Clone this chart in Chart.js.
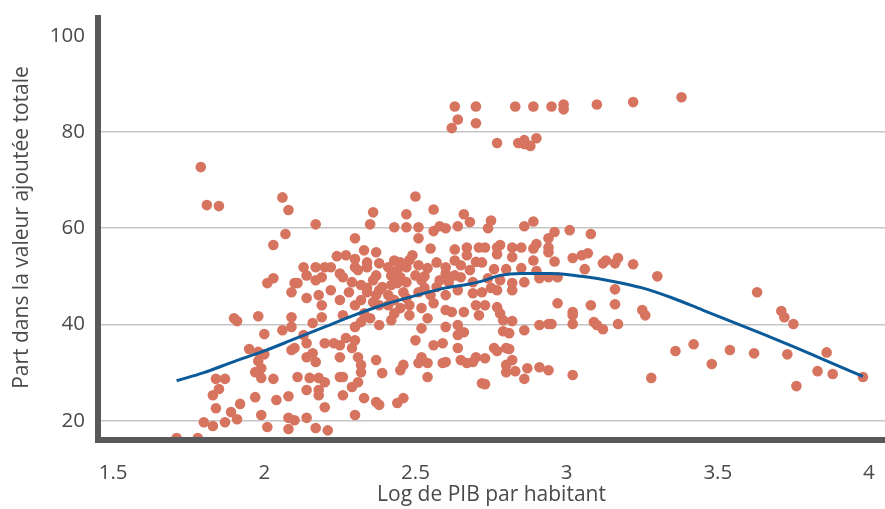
<!DOCTYPE html>
<html>
<head>
<meta charset="utf-8">
<script src="https://cdn.jsdelivr.net/npm/chart.js@4.4.1/dist/chart.umd.min.js"></script>
<style>
  html, body { margin: 0; padding: 0; background: #fff; }
  #wrap { width: 885px; height: 509px; position: relative; }
</style>
</head>
<body>
<div id="wrap"><canvas id="scatterChart"></canvas></div>
<script>
// log GDP per capita (x) and share of total value added (y), one entry per observation
var gdpLog = [
  1.71, 1.78, 1.79, 1.81, 1.85, 1.90, 1.91, 1.98, 1.84, 1.87, 1.85, 1.83, 1.84, 1.89, 1.92, 1.80,
  1.83, 1.87, 1.91, 1.95, 1.98, 2.00, 2.00, 1.98, 1.99, 1.97, 1.99, 2.03, 1.97, 2.04, 2.08, 1.99,
  2.01, 2.08, 2.08, 2.06, 2.09, 2.09, 2.09, 2.06, 2.08, 2.07, 2.03, 2.03, 2.01, 2.10, 2.09,
  2.36, 2.50, 2.56, 2.47, 2.66, 2.68, 2.17, 2.35, 2.43, 2.47, 2.51, 2.56, 2.58, 2.60, 2.64, 2.30,
  2.51, 2.33, 2.37, 2.55, 2.63, 2.67, 2.71, 2.24, 2.27, 2.30, 2.34, 2.38, 2.43, 2.45, 2.49, 2.51,
  2.57, 2.63, 2.67, 2.72, 2.13, 2.17, 2.20, 2.22, 2.30, 2.34, 2.41, 2.47, 2.54, 2.60, 2.65, 2.14,
  2.19, 2.25, 2.31, 2.37, 2.42, 2.45, 2.50, 2.52, 2.60, 2.63, 2.65, 2.69, 2.11, 2.17, 2.34, 2.39,
  2.44, 2.53, 2.57, 2.14, 2.18, 2.28, 2.37, 2.41, 2.46, 2.47, 2.60, 2.69, 2.72, 2.30, 2.36, 2.41,
  2.45, 2.52, 2.56, 2.62, 2.66, 2.70, 2.19, 2.26, 2.33, 2.43, 2.48,
  2.26, 2.29, 2.32, 2.34, 2.36, 2.38, 2.42, 2.44, 2.47, 2.48, 2.51, 2.53, 2.58, 2.61, 2.64, 2.68,
  2.70, 2.22, 2.19, 2.25, 2.32, 2.38, 2.43, 2.48, 2.55, 2.60,
  2.16, 2.30, 2.32, 2.35, 2.38, 2.42, 2.52, 2.54, 2.60, 2.64, 2.64, 2.66, 2.71, 2.10, 2.13, 2.14,
  2.16, 2.14, 2.17, 2.20, 2.23, 2.25, 2.27, 2.30, 2.29, 2.25, 2.31, 2.32, 2.32, 2.37, 2.39, 2.46,
  2.45, 2.50, 2.51, 2.52, 2.54, 2.56, 2.59, 2.59, 2.60, 2.64, 2.65, 2.67, 2.69, 2.70, 2.72, 2.54,
  2.11, 2.15, 2.18, 2.20, 2.25, 2.26, 2.31, 2.14, 2.18, 2.18, 2.26, 2.29, 2.33, 2.37, 2.38, 2.44,
  2.46, 2.20, 2.30, 2.10, 2.14, 2.17, 2.21,
  2.75, 2.74, 2.89, 2.86, 2.96, 3.01, 3.08, 2.94, 2.73, 2.77, 2.78, 2.82, 2.85, 2.89, 2.90, 2.94,
  2.77, 2.82, 2.89, 2.94, 2.96, 3.02, 3.05, 3.07, 3.12, 3.13, 3.16, 3.17, 3.22, 3.30, 2.76, 2.80,
  2.85, 2.90, 3.06, 2.74, 2.78, 2.82, 2.86, 2.91, 2.94, 2.97, 2.75, 2.77, 2.82, 3.16, 2.73, 2.77,
  2.97, 3.02, 3.08, 3.16, 3.25, 3.26, 2.78,
  2.79, 2.82, 2.79, 2.81, 2.86, 2.91, 2.94, 2.95, 3.02, 3.02, 3.09, 3.10, 3.12, 3.17, 2.76, 2.77,
  2.80, 2.81, 2.73, 2.82, 2.80, 2.80, 2.83, 2.87, 2.91, 2.94, 2.86, 3.02, 2.73, 3.28, 3.36,
  3.63, 3.71, 3.72, 3.75, 3.42, 3.48, 3.54, 3.62, 3.73, 3.86, 3.83, 3.88, 3.76, 3.98,
  2.63, 2.70, 2.64, 2.70, 2.62, 2.83, 2.89, 2.95, 2.99, 2.99, 3.10, 3.22, 3.38, 2.77, 2.84, 2.86,
  2.86, 2.88, 2.90
];
var valueShare = [
  16.4, 16.4, 72.7, 64.8, 64.6, 41.3, 40.7, 41.7, 28.7, 28.7, 26.6, 25.3, 22.6, 21.8, 23.5, 19.7,
  18.9, 19.7, 20.3, 34.9, 34.3, 33.8, 38.0, 32.4, 30.9, 30.1, 28.9, 28.7, 24.9, 24.3, 25.1, 21.2,
  18.7, 20.6, 18.3, 38.8, 39.5, 41.5, 34.7, 66.4, 63.8, 58.8, 56.5, 49.6, 48.6, 48.6, 46.7,
  63.3, 66.6, 63.9, 62.9, 62.9, 61.3, 60.8, 60.8, 60.2, 60.2, 60.2, 59.4, 60.4, 60.0, 60.4, 57.9,
  57.9, 55.4, 55.0, 55.8, 55.6, 56.0, 56.0, 54.2, 54.4, 53.6, 52.9, 52.7, 53.3, 52.9, 54.4, 52.3,
  52.9, 53.3, 54.4, 52.9, 51.9, 51.9, 51.9, 51.9, 51.9, 51.9, 51.9, 51.9, 51.7, 51.9, 52.3, 50.2,
  49.8, 50.6, 51.3, 50.2, 50.2, 49.8, 50.2, 49.2, 50.6, 50.2, 49.8, 48.8, 48.6, 49.2, 47.6, 47.8,
  48.6, 47.6, 47.8, 45.5, 46.1, 46.7, 46.1, 46.1, 46.7, 45.5, 46.1, 46.5, 46.7, 44.0, 44.6, 44.0,
  43.4, 43.4, 44.4, 42.6, 42.6, 44.0, 41.5, 41.9, 42.3, 42.3, 41.9,
  49.8, 48.8, 48.2, 46.7, 49.2, 47.1, 48.2, 51.3, 48.8, 53.4, 46.7, 50.0, 49.2, 48.8, 47.1, 51.3,
  53.0, 47.1, 44.0, 45.1, 45.1, 44.0, 45.1, 44.0, 46.1, 43.0,
  40.3, 39.5, 40.5, 41.3, 39.9, 40.9, 39.2, 41.3, 39.5, 39.9, 37.8, 38.4, 41.9, 35.1, 37.8, 36.1,
  34.0, 33.2, 32.2, 36.1, 36.1, 35.7, 37.2, 36.7, 35.1, 33.2, 33.2, 31.6, 30.1, 32.6, 29.9, 31.6,
  30.5, 36.7, 32.0, 33.2, 32.0, 35.7, 36.1, 32.0, 32.2, 35.1, 32.6, 32.0, 32.2, 33.2, 27.8, 29.1,
  29.1, 28.9, 28.9, 28.0, 29.1, 29.1, 28.0, 26.4, 26.4, 25.3, 25.3, 27.0, 24.7, 23.9, 23.3, 23.7,
  24.7, 22.8, 21.2, 20.1, 20.6, 18.5, 18.0,
  61.6, 60.0, 61.4, 60.4, 59.2, 59.6, 58.8, 57.9, 56.0, 56.0, 56.5, 56.0, 56.0, 55.8, 56.7, 56.0,
  54.6, 54.0, 53.3, 55.0, 53.1, 53.8, 54.4, 54.8, 52.7, 53.3, 52.7, 53.8, 52.5, 50.0, 51.5, 51.5,
  51.7, 51.1, 51.5, 49.6, 49.2, 48.6, 48.8, 49.6, 49.8, 49.8, 47.6, 47.1, 47.1, 47.3, 44.0, 43.6,
  44.4, 42.6, 44.0, 44.2, 43.0, 41.9, 42.3,
  40.9, 40.7, 38.6, 38.2, 38.8, 39.9, 40.1, 40.1, 41.9, 40.1, 40.5, 39.9, 39.0, 40.1, 35.1, 34.5,
  35.1, 34.9, 33.0, 32.6, 31.6, 30.1, 30.3, 30.9, 31.1, 30.5, 28.7, 29.5, 27.6, 28.9, 34.5,
  46.7, 42.8, 41.5, 40.1, 35.9, 31.8, 34.7, 34.0, 33.8, 34.2, 30.3, 29.7, 27.2, 29.1,
  85.3, 85.3, 82.6, 81.8, 80.8, 85.3, 85.3, 85.3, 85.7, 84.7, 85.7, 86.2, 87.2, 77.7, 77.7, 78.3,
  77.5, 77.1, 78.7
];

// smoothed trend through the cloud
var trendX = [1.71, 1.80, 1.90, 2.00, 2.10, 2.20, 2.30, 2.40, 2.50, 2.60, 2.67, 2.72, 2.78,
              2.85, 2.95, 3.05, 3.15, 3.25, 3.35, 3.45, 3.55, 3.65, 3.75, 3.85, 3.98];
var trendY = [28.3, 30.0, 32.3, 34.5, 37.0, 39.5, 42.0, 44.2, 46.0, 47.6, 48.3, 49.0, 50.2,
              50.6, 50.6, 50.0, 49.0, 47.6, 45.5, 43.0, 40.5, 38.0, 35.4, 32.7, 29.2];

var xTicks = [1.5, 2, 2.5, 3, 3.5, 4];
var yTicks = [20, 40, 60, 80, 100];

var points = gdpLog.map(function (x, i) {
    return { x: x, y: valueShare[i] };
});
var trend = trendX.map(function (x, i) {
    return { x: x, y: trendY[i] };
});

var textColor = '#4a4a4a';
var axisColor = '#58595b';

// thick axis lines go on top of the dots
var axisLines = {
    id: 'axisLines',
    afterDatasetsDraw: function (chart) {
        var ctx = chart.ctx;
        var a = chart.chartArea;
        ctx.save();
        ctx.strokeStyle = axisColor;
        ctx.lineWidth = 6;
        ctx.beginPath();
        ctx.moveTo(a.left, a.top);
        ctx.lineTo(a.left, a.bottom);
        ctx.moveTo(a.left - 3, a.bottom);
        ctx.lineTo(a.right, a.bottom);
        ctx.stroke();
        ctx.restore();
    }
};

new Chart(document.getElementById('scatterChart'), {
    type: 'scatter',
    data: {
        datasets: [{
            type: 'line',
            data: trend,
            borderColor: '#0b5a9a',
            borderWidth: 3,
            pointRadius: 0,
            fill: false,
            cubicInterpolationMode: 'monotone'
        }, {
            data: points,
            backgroundColor: '#d6745f',
            borderWidth: 0,
            pointRadius: 5.3,
            pointHoverRadius: 5.3
        }]
    },
    options: {
        responsive: true,
        maintainAspectRatio: false,
        animation: false,
        layout: {
            autoPadding: false,
            padding: { top: 15, right: 0, left: 0, bottom: 0 }
        },
        plugins: {
            legend: { display: false },
            tooltip: { enabled: false }
        },
        scales: {
            x: {
                type: 'linear',
                min: 1.45,
                max: 4.053,
                afterBuildTicks: function (scale) {
                    scale.ticks = xTicks.map(function (v) { return { value: v }; });
                },
                afterFit: function (scale) {
                    scale.height = 69;
                    scale.paddingLeft = 0;
                    scale.paddingRight = 0;
                },
                grid: { display: false },
                border: { display: false },
                ticks: {
                    color: textColor,
                    padding: 13,
                    maxRotation: 0,
                    font: { family: 'Open Sans', size: 20.5 },
                    callback: function (v) { return String(v); }
                },
                title: {
                    display: true,
                    text: 'Log de PIB par habitant',
                    color: textColor,
                    font: { family: 'Open Sans', size: 21 },
                    padding: { top: 0, bottom: 1 }
                }
            },
            y: {
                min: 16,
                max: 104.3,
                afterBuildTicks: function (scale) {
                    scale.ticks = yTicks.map(function (v) { return { value: v }; });
                },
                afterFit: function (scale) {
                    scale.width = 98;
                    scale.paddingTop = 0;
                    scale.paddingBottom = 0;
                },
                grid: {
                    drawTicks: false,
                    lineWidth: 1.5,
                    color: function (c) {
                        return c.tick && c.tick.value === 100 ? 'rgba(0,0,0,0)' : '#c6c6c6';
                    }
                },
                border: { display: false },
                ticks: {
                    color: textColor,
                    padding: 13,
                    font: { family: 'Open Sans', size: 20.5 }
                },
                title: {
                    display: true,
                    text: 'Part dans la valeur ajoutée totale',
                    color: textColor,
                    font: { family: 'Open Sans', size: 21 },
                    padding: { top: 9, bottom: 0 }
                }
            }
        }
    },
    plugins: [axisLines]
});
</script>
</body>
</html>
